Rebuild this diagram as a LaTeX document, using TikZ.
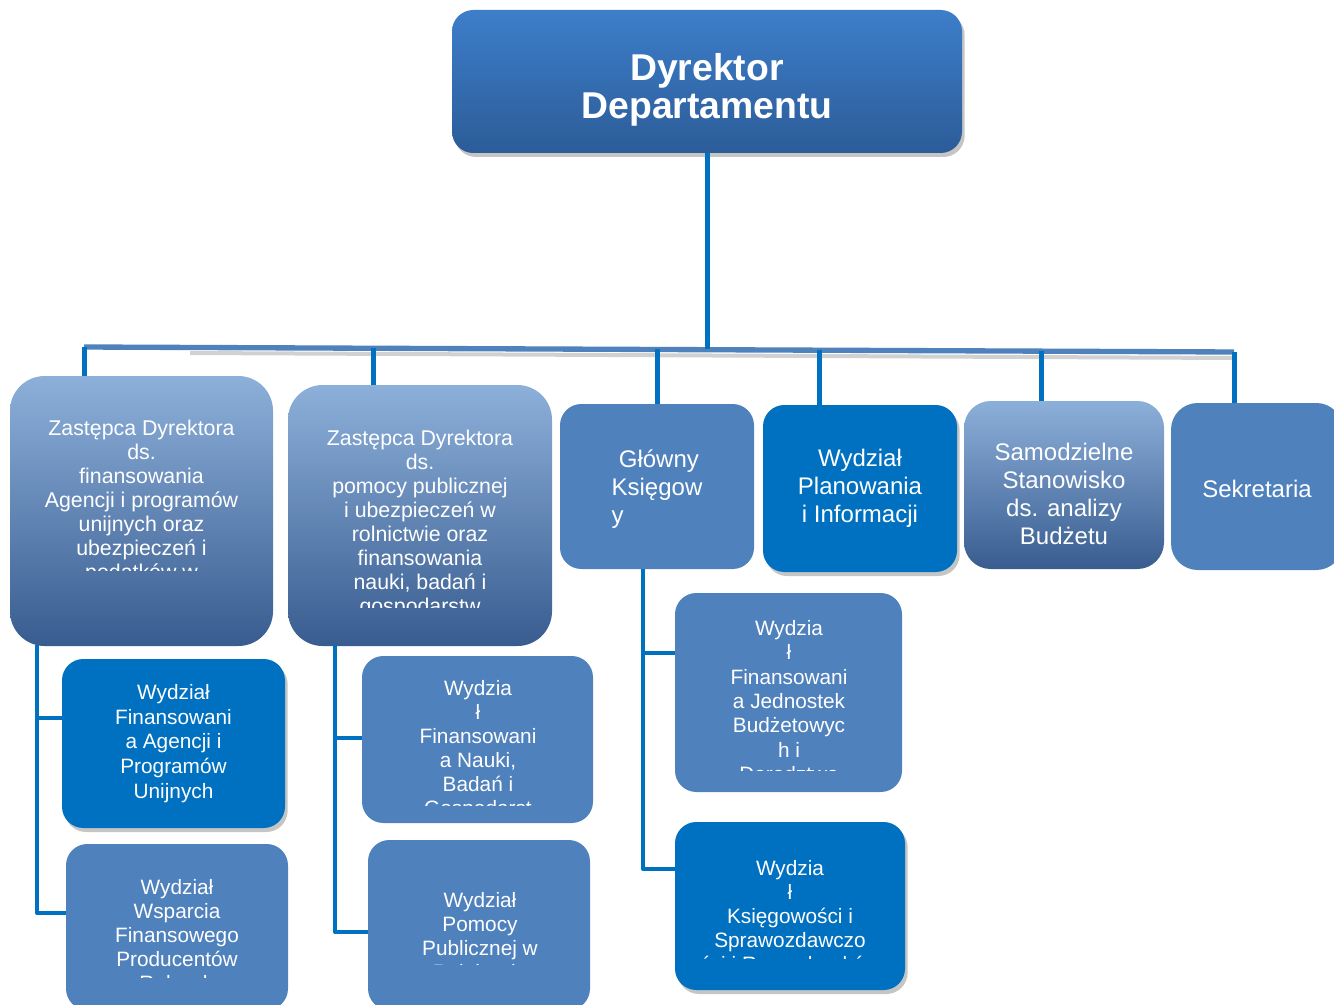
\documentclass[tikz,border=0pt]{standalone}
\usepackage{fontspec}
\setmainfont{Liberation Sans}
\usetikzlibrary{shadows}
\definecolor{bluebox}{RGB}{79,129,189}
\definecolor{deepblue}{RGB}{0,112,192}
\definecolor{gradtop}{RGB}{141,176,218}
\definecolor{gradbot}{RGB}{56,92,143}
\definecolor{headtop}{RGB}{61,126,202}
\definecolor{headbot}{RGB}{44,92,152}

\begin{document}
\begin{tikzpicture}[x=0.75pt,y=-0.75pt,line join=round,
  box/.style={rounded corners=16pt,inner sep=0pt,text=white,align=center},
  flatbox/.style={box,fill=bluebox},
  deepbox/.style={box,fill=deepblue,drop shadow={shadow xshift=2pt,shadow yshift=-3pt,fill=black!45}},
  gradbox/.style={box,top color=gradtop,bottom color=gradbot,rounded corners=26pt},
  smalltxt/.style={font=\fontsize{15.6}{18}\selectfont},
  midtxt/.style={font=\fontsize{18}{20.8}\selectfont},
  txt/.style={inner sep=0pt,text=white,align=center,anchor=north,smalltxt},
  link/.style={draw=deepblue,line width=3.75pt},
  spine/.style={draw=deepblue,line width=3pt}]
\useasboundingbox (0,0) rectangle (1334,1005);

% head
\node[box,top color=headtop,bottom color=headbot,
  drop shadow={shadow xshift=2pt,shadow yshift=-3pt,fill=black!45},
  minimum width=382.5pt,minimum height=107.25pt] (dyr) at (707,81.5) {};
\node[txt,anchor=center,font=\bfseries\fontsize{28}{28.5}\selectfont] (dyr-t) at (707,90) {Dyrektor\\Departamentu};

% second row
\node[gradbox,minimum width=197.25pt,minimum height=202.5pt] (zast1) at (141.5,511) {};
\node[gradbox,minimum width=198pt,minimum height=195.75pt] (zast2) at (420,515.5) {};
\node[flatbox,minimum width=145.5pt,minimum height=123.75pt] (glow) at (657,486.5) {};
\node[txt,anchor=center,midtxt,align=left] (glow-t) at (657,489) {\hspace*{0.3em}Główny\\Księgow\\y};
\node[deepbox,midtxt,minimum width=145.5pt,minimum height=125.25pt] (plan) at (860,488.5) {Wydział\\Planowania\\i Informacji};
\node[gradbox,rounded corners=20pt,minimum width=150pt,minimum height=126pt] (samo) at (1064,485) {};
\node[txt,anchor=center,midtxt] (samo-t) at (1064,494) {Samodzielne\\Stanowisko\\ds. analizy\\Budżetu};
\node[flatbox,midtxt,rounded corners=20pt,minimum width=129pt,minimum height=125.25pt] (sekr) at (1257,486.5) {};
\node[txt,anchor=center,midtxt] (sekr-t) at (1257,489) {Sekretaria};

% third row
\node[deepbox,font=\fontsize{15.6}{18.5}\selectfont,minimum width=167.25pt,minimum height=126.75pt] (wfa) at (173.5,743.5) {Wydział\\Finansowani\\a Agencji i\\Programów\\Unijnych};
\node[flatbox,minimum width=166.5pt,minimum height=124.5pt] (wws) at (177,927) {};
\node[flatbox,minimum width=173.25pt,minimum height=125.25pt] (wfn) at (477.5,739.5) {};
\node[flatbox,minimum width=166.5pt,minimum height=127.5pt] (wpp) at (479,925) {};
\node[flatbox,minimum width=170.25pt,minimum height=149.25pt] (wfj) at (788.5,692.5) {};
\node[deepbox,minimum width=172.5pt,minimum height=126pt] (wks) at (790,906) {};

% texts cut off at the bottom
\begin{scope}
\clip (zast1.north west) rectangle (273,570);
\node[txt,font=\fontsize{16}{18}\selectfont] (zast1-t) at (141.5,420) {Zastępca Dyrektora\\ds.\\finansowania\\Agencji i programów\\unijnych oraz\\ubezpieczeń i\\podatków w};
\end{scope}
\begin{scope}
\clip (zast2.north west) rectangle (552,607);
\node[txt,font=\fontsize{16}{18}\selectfont] (zast2-t) at (420,430) {Zastępca Dyrektora\\ds.\\pomocy publicznej\\i ubezpieczeń w\\rolnictwie oraz\\finansowania\\nauki, badań i\\gospodarstw};
\end{scope}
\begin{scope}
\clip (wfn.north west) rectangle (593,805);
\node[txt] (wfn-t) at (478,680) {Wydzia\\ł\\Finansowani\\a Nauki,\\Badań i\\Gospodarst};
\end{scope}
\begin{scope}
\clip (wws.north west) rectangle (288,977);
\node[txt] (wws-t) at (177,879) {Wydział\\Wsparcia\\Finansowego\\Producentów\\Rolnych};
\end{scope}
\begin{scope}
\clip (wpp.north west) rectangle (590,964);
\node[txt] (wpp-t) at (480,892) {Wydział\\Pomocy\\Publicznej w\\Rolnictwie};
\end{scope}
\begin{scope}
\clip (wfj.north west) rectangle (902,770);
\node[txt,font=\fontsize{15.6}{18.3}\selectfont] (wfj-t) at (789,620) {Wydzia\\ł\\Finansowani\\a Jednostek\\Budżetowyc\\h i\\Doradztwa};
\end{scope}
\begin{scope}
\clip (wks.north west) rectangle (905,958);
\node[txt] (wks-t) at (790,860) {Wydzia\\ł\\Księgowości i\\Sprawozdawczo\\ści i Rozrachunków};
\end{scope}

% bus
\coordinate (busL) at (84,347);
\coordinate (busR) at (1234,352);
\coordinate (tap2) at (373,348);
\coordinate (tap3) at (657,349.5);
\coordinate (tap4) at (819,350);
\coordinate (tap5) at (1041,351);
\draw[black!18,line width=3pt] ([shift={(106,6)}]busL) -- ([shift={(0,6)}]busR);
\draw[bluebox,line width=4pt] (busL) -- (busR);
\draw[link] (dyr.south) -- (dyr.south |- tap3);
\draw[link] (busL) -- (busL |- zast1.north);
\draw[link] (tap2) -- (tap2 |- zast2.north);
\draw[link] (tap3) -- (glow.north);
\draw[link] (tap4) -- (tap4 |- plan.north);
\draw[link] (tap5) -- (tap5 |- samo.north);
\draw[link] (busR) -- (busR |- sekr.north);

% spines
\coordinate (sp1) at (37,645);
\coordinate (sp1a) at (37,718);
\coordinate (sp1b) at (37,913);
\draw[spine] (sp1) -- (sp1b) -- (sp1b -| wws.west);
\draw[spine] (sp1a) -- (sp1a -| wfa.west);
\coordinate (sp2) at (335,645);
\coordinate (sp2a) at (335,738);
\coordinate (sp2b) at (335,932);
\draw[spine] (sp2) -- (sp2b) -- (sp2b -| wpp.west);
\draw[spine] (sp2a) -- (sp2a -| wfn.west);
\coordinate (sp3) at (643,569);
\coordinate (sp3a) at (643,653);
\coordinate (sp3b) at (643,869);
\draw[spine] (sp3) -- (sp3b) -- (sp3b -| wks.west);
\draw[spine] (sp3a) -- (sp3a -| wfj.west);
\end{tikzpicture}
\end{document}
